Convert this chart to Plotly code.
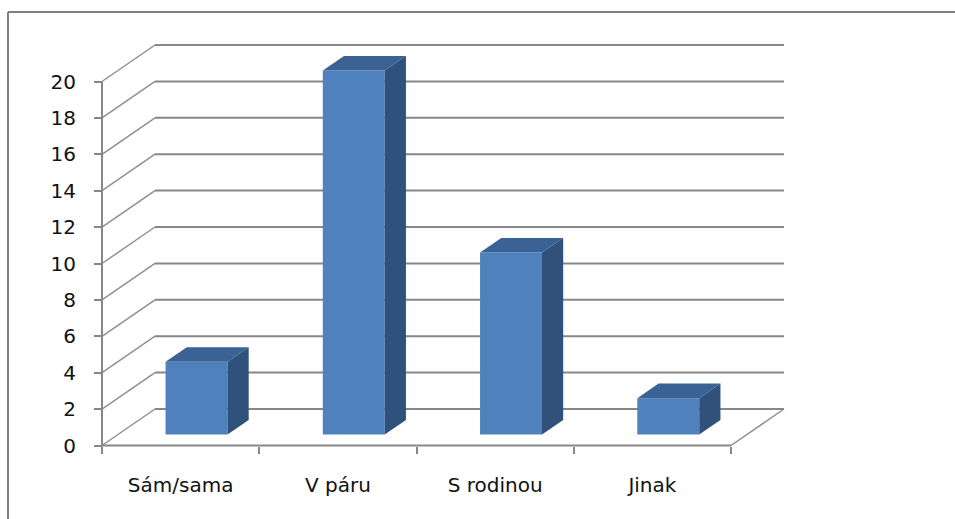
import plotly.graph_objects as go

# Survey answers: how people travel
categories = ["Sám/sama", "V páru", "S rodinou", "Jinak"]
counts = [4, 20, 10, 2]
y_ticks = [0, 2, 4, 6, 8, 10, 12, 14, 16, 18, 20]

# ---- page / pixel geometry -------------------------------------------------
W, H = 955, 519
ML, MR, MT, MB = 80, 150, 25, 60          # margins of the drawing area
PLOT_W, PLOT_H = W - ML - MR, H - MT - MB
AXIS_X_PX = 102                            # front value axis
AXIS_Y_PX = 445.5                          # front floor line
PX_PER_CAT = 157.25
PX_PER_UNIT = 18.2

x_range = [(ML - AXIS_X_PX) / PX_PER_CAT, (W - MR - AXIS_X_PX) / PX_PER_CAT]
y_range = [-(H - MB - AXIS_Y_PX) / PX_PER_UNIT, (AXIS_Y_PX - MT) / PX_PER_UNIT]

# perspective offset of the back wall (in data units)
DEPTH_X = 53 / PX_PER_CAT
DEPTH_Y = 36.5 / PX_PER_UNIT
BAR_W = 0.394
D_FRONT, D_BACK = 0.3, 0.7

GRID = "#878787"
FRONT = "#4F81BD"
TOP = "#3B6294"
SIDE = "#30517B"

fig = go.Figure()


def seg(xs, ys, color=GRID, width=2):
    fig.add_trace(go.Scatter(x=xs, y=ys, mode="lines", hoverinfo="skip",
                             line=dict(color=color, width=width), showlegend=False))


def poly(xs, ys, color):
    fig.add_trace(go.Scatter(x=xs + [xs[0]], y=ys + [ys[0]], mode="lines", fill="toself",
                             fillcolor=color, line=dict(width=0, color=color),
                             hoverinfo="skip", showlegend=False))


n = len(categories)
# back wall gridlines and side-wall diagonals
for g in y_ticks:
    seg([0, DEPTH_X], [g, g + DEPTH_Y], color="#8f8f8f", width=1.5)
    seg([DEPTH_X, n + DEPTH_X], [g + DEPTH_Y, g + DEPTH_Y])
# floor: front edge and right diagonal
seg([0, n], [0, 0])
seg([n, n + DEPTH_X], [0, DEPTH_Y], color="#8f8f8f", width=1.5)
# front value axis line
seg([0, 0], [0, y_ticks[-1]])

# 3D bars
for i, v in enumerate(counts):
    c = i + 0.5
    x0, x1 = c - BAR_W / 2, c + BAR_W / 2
    fx, fy = D_FRONT * DEPTH_X, D_FRONT * DEPTH_Y
    bx, by = D_BACK * DEPTH_X, D_BACK * DEPTH_Y
    # front face
    poly([x0 + fx, x1 + fx, x1 + fx, x0 + fx], [fy, fy, v + fy, v + fy], FRONT)
    # top face
    poly([x0 + fx, x1 + fx, x1 + bx, x0 + bx], [v + fy, v + fy, v + by, v + by], TOP)
    # right side face
    poly([x1 + fx, x1 + bx, x1 + bx, x1 + fx], [fy, by, v + by, v + fy], SIDE)

# invisible anchors so the overlaid tick axes are drawn
fig.add_trace(go.Scatter(x=[0], y=[0], xaxis="x", yaxis="y2", mode="markers",
                         marker=dict(opacity=0), hoverinfo="skip", showlegend=False))
fig.add_trace(go.Scatter(x=[0], y=[0], xaxis="x2", yaxis="y", mode="markers",
                         marker=dict(opacity=0), hoverinfo="skip", showlegend=False))

FONT = dict(family="DejaVu Sans", size=20, color="#111111")

fig.update_layout(
    width=W, height=H,
    margin=dict(l=ML, r=MR, t=MT, b=MB, pad=0),
    paper_bgcolor="white", plot_bgcolor="white",
    xaxis=dict(range=x_range, visible=False, fixedrange=True),
    yaxis=dict(range=y_range, visible=False, fixedrange=True),
    yaxis2=dict(overlaying="y", matches="y", anchor="free",
                position=(AXIS_X_PX - ML) / PLOT_W, side="left",
                tickmode="array", tickvals=y_ticks, ticktext=[str(t) for t in y_ticks],
                ticks="outside", ticklen=8, tickwidth=2, tickcolor=GRID,
                showline=False, showgrid=False, zeroline=False,
                tickfont=FONT, ticklabelstandoff=14, automargin=False),
    xaxis2=dict(overlaying="x", matches="x", anchor="free",
                position=(H - MB - AXIS_Y_PX) / PLOT_H, side="bottom",
                tickmode="array", tickvals=[i + 0.5 for i in range(n)], ticktext=categories,
                ticks="", showline=False, showgrid=False, zeroline=False,
                minor=dict(tickmode="array", tickvals=list(range(n + 1)), ticks="outside",
                           ticklen=7, tickwidth=2, tickcolor=GRID, showgrid=False),
                tickfont=FONT, ticklabelstandoff=25, automargin=False),
    shapes=[
        # chart frame (top and left edges)
        dict(type="line", xref="paper", yref="paper", layer="below",
             x0=(8 - ML) / PLOT_W, x1=(W + 5 - ML) / PLOT_W,
             y0=(H - MB - 12) / PLOT_H, y1=(H - MB - 12) / PLOT_H,
             line=dict(color="#808080", width=2)),
        dict(type="line", xref="paper", yref="paper", layer="below",
             x0=(8 - ML) / PLOT_W, x1=(8 - ML) / PLOT_W,
             y0=(H - MB - 12) / PLOT_H, y1=(-MB - 5) / PLOT_H,
             line=dict(color="#808080", width=2)),
    ],
)

fig.write_html("out.html")
